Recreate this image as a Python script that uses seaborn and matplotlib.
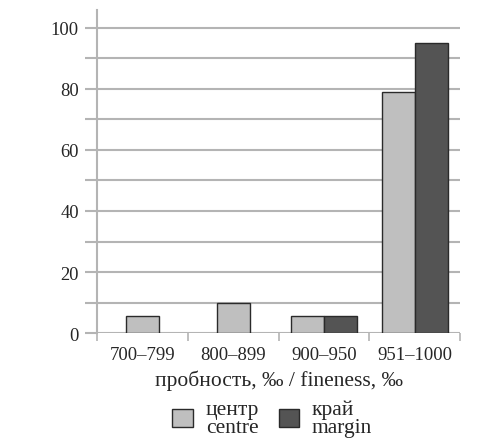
import pandas as pd
import seaborn as sns
import matplotlib.pyplot as plt
from matplotlib.ticker import FixedLocator

categories = ["700–799", "800–899", "900–950", "951–1000"]
series = ["центр\ncentre", "край\nmargin"]
centre = [5.5, 10, 5.5, 79]
margin = [0, 0, 5.5, 95]
colors = ["#bfbfbf", "#545454"]


def plot():
    sns.set_theme(style="white")
    plt.rcParams["font.family"] = ["Liberation Serif", "DejaVu Serif"]
    plt.rcParams["font.size"] = 13

    rows = []
    for cat, c, m in zip(categories, centre, margin):
        rows.append([cat, series[0], c, m > 0])
        rows.append([cat, series[1], m, m > 0])
    df = pd.DataFrame(rows, columns=["cat", "series", "value", "pair"])

    fig = plt.figure(figsize=(4.97, 4.39), dpi=100)
    ax = fig.add_axes([0.195, 0.239, 0.731, 0.737])

    # categories with only the centre value: single bar in the middle
    single = df[(~df["pair"]) & (df["series"] == series[0])]
    sns.barplot(data=single, x="cat", y="value", order=categories, color=colors[0],
                width=0.36, edgecolor="#2a2a2a", linewidth=1, saturation=1, ax=ax)
    # categories with both values: side by side
    pair = df[df["pair"]]
    sns.barplot(data=pair, x="cat", y="value", hue="series", order=categories,
                hue_order=series, palette=colors, width=0.72, dodge=True,
                edgecolor="#2a2a2a", linewidth=1, saturation=1, ax=ax)

    ax.set_xlim(-0.5, len(categories) - 0.5)
    ax.set_ylim(0, 106)
    ax.yaxis.set_major_locator(FixedLocator([0, 20, 40, 60, 80, 100]))
    ax.yaxis.set_minor_locator(FixedLocator([10, 30, 50, 70, 90]))
    ax.xaxis.set_minor_locator(FixedLocator([i - 0.5 for i in range(len(categories) + 1)]))
    ax.grid(True, axis="y", which="both", color="#b4b4b4", linewidth=1.5)
    ax.set_axisbelow(True)
    for s in ["top", "right", "bottom"]:
        ax.spines[s].set_visible(False)
    ax.spines["left"].set_color("#b4b4b4")
    ax.spines["left"].set_linewidth(1.5)
    ax.tick_params(axis="y", which="both", direction="out", length=9, width=1.5,
                   color="#b4b4b4", labelsize=13.3, pad=4, left=True)
    ax.tick_params(axis="x", which="major", length=0, labelsize=13.5, pad=9)
    ax.tick_params(axis="x", which="minor", direction="out", length=6, width=1.2,
                   color="#b4b4b4", bottom=True)
    ax.set_ylabel("")
    ax.set_xlabel("пробность, ‰ / fineness, ‰", fontsize=15.5, labelpad=5)

    ax.get_legend().remove()
    handles, labels = ax.get_legend_handles_labels()
    leg = fig.legend(handles, labels, loc="center", bbox_to_anchor=(0.548, 0.045), ncol=2,
                     frameon=False, fontsize=15.5, handlelength=0.95, handleheight=0.9,
                     handletextpad=0.6, columnspacing=0.9, labelspacing=0.1)
    for t in leg.get_texts():
        t.set_linespacing(0.92)

    plt.savefig("out.png", dpi=100)


plot()
